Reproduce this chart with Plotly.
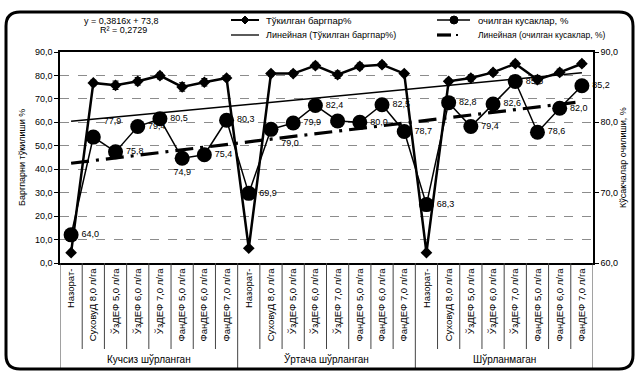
import numpy as np
import plotly.graph_objects as go

# ---- data -------------------------------------------------------------
groups = ["Кучсиз шўрланган", "Ўртача шўрланган", "Шўрланмаган"]
treatments = ["Назорат-", "СуховуД 8,0 л/га", "ЎзДЕФ 5,0 л/га", "ЎзДЕФ 6,0 л/га",
              "ЎзДЕФ 7,0 л/га", "ФанДЕФ 5,0 л/га", "ФанДЕФ 6,0 л/га", "ФанДЕФ 7,0 л/га"]
categories = treatments * len(groups)

# leaf fall, % (left axis)
leaf_fall = [4.4, 76.8, 75.8, 77.5, 79.9, 75.1, 77.1, 78.9,
             6.3, 80.8, 80.8, 84.2, 80.3, 83.9, 84.6, 80.8,
             4.4, 77.5, 78.9, 81.3, 85.0, 78.2, 81.3, 85.0]
leaf_err = [0.0, 1.2, 1.8, 1.6, 1.4, 1.8, 1.6, 1.0,
            0.0, 1.0, 1.2, 1.4, 1.6, 1.4, 1.2, 1.0,
            0.0, 1.0, 1.4, 1.2, 1.2, 1.8, 1.4, 1.2]

# opened bolls, % (right axis)
boll_open = [64.0, 77.9, 75.8, 79.4, 80.5, 74.9, 75.4, 80.3,
             69.9, 79.0, 79.9, 82.4, 80.2, 80.0, 82.5, 78.7,
             68.3, 82.8, 79.4, 82.6, 85.8, 78.6, 82.0, 85.2]
boll_label_show = [1, 1, 1, 1, 1, 1, 1, 1,
                   1, 1, 1, 1, 0, 1, 1, 1,
                   1, 1, 1, 1, 1, 1, 1, 1]
boll_label_pos = ["middle right", "top right", "middle right", "middle right",
                  "middle right", "bottom center", "middle right", "middle right",
                  "middle right", "bottom right", "middle right", "middle right",
                  "middle right", "middle right", "middle right", "middle right",
                  "middle right", "middle right", "middle right", "middle right",
                  "middle right", "middle right", "middle right", "middle right"]

equation_text = "y = 0,3816x + 73,8"
r2_text = "R² = 0,2729"

left_ticks = [0, 10, 20, 30, 40, 50, 60, 70, 80, 90]
right_ticks = [60, 70, 80, 90]

# ---- geometry ---------------------------------------------------------
W, H = 637, 374
ML, MR, MT, MB = 60, 44, 52, 111
PW, PH = W - ML - MR, H - MT - MB


def px(x):
    return (x - ML) / PW


def py(y):
    return (H - MB - y) / PH


FONT = "Liberation Sans, Arial, sans-serif"
idx = np.arange(len(categories))


def fmt(v):
    return f"{v:.1f}".replace(".", ",")


# linear trends fitted to each series
k1, b1 = np.polyfit(idx, leaf_fall, 1)
k2, b2 = np.polyfit(idx, boll_open, 1)
tx = np.array([idx[0], idx[-1]])

fig = go.Figure()

fig.add_trace(go.Scatter(
    x=tx, y=k1 * tx + b1, mode="lines", yaxis="y",
    line=dict(color="black", width=1.5), showlegend=False, hoverinfo="skip"))

fig.add_trace(go.Scatter(
    x=tx, y=k2 * tx + b2, mode="lines", yaxis="y2",
    line=dict(color="black", width=3.2, dash="18px,7px,3px,7px"),
    showlegend=False, hoverinfo="skip"))

fig.add_trace(go.Scatter(
    x=idx, y=leaf_fall, mode="lines+markers", yaxis="y",
    line=dict(color="black", width=2.5),
    marker=dict(symbol="diamond", size=9, color="black"),
    error_y=dict(type="data", array=leaf_err, color="black", thickness=1, width=3),
    showlegend=False))

fig.add_trace(go.Scatter(
    x=idx, y=boll_open, mode="lines+markers+text", yaxis="y2",
    line=dict(color="black", width=1.5),
    marker=dict(symbol="circle", size=15, color="black"),
    text=[fmt(v) if s else "" for v, s in zip(boll_open, boll_label_show)],
    textposition=boll_label_pos,
    textfont=dict(family=FONT, size=9, color="black"),
    showlegend=False, cliponaxis=False))

shapes = []
annotations = []


def note(x, y, t, size=9, angle=0, xanchor="center"):
    annotations.append(dict(x=px(x), y=py(y), xref="paper", yref="paper",
                            text=t, textangle=angle, showarrow=False,
                            xanchor=xanchor, yanchor="middle",
                            font=dict(family=FONT, size=size, color="black")))


# category separators below the axis
for k in range(len(categories) + 1):
    edge = k % len(treatments) == 0
    shapes.append(dict(type="line", xref="x", yref="paper",
                       x0=k - 0.5, x1=k - 0.5, y0=0, y1=py(368 if edge else 349),
                       line=dict(color="#444", width=1)))

for g, name in enumerate(groups):
    annotations.append(dict(
        x=g * len(treatments) + (len(treatments) - 1) / 2, y=py(359),
        xref="x", yref="paper", text=name, showarrow=False,
        xanchor="center", yanchor="middle",
        font=dict(family=FONT, size=10, color="black")))

# axis titles
note(22, 158, "Баргпарни тўкилиши %", size=9, angle=-90)
note(623, 158, "Кўсакчалар очилиши, %", size=9, angle=-90)

# trend equation
note(121, 21, equation_text)
note(123, 30, r2_text)


# legend
def seg(x0, x1, y, w):
    shapes.append(dict(type="line", xref="paper", yref="paper",
                       x0=px(x0), x1=px(x1), y0=py(y), y1=py(y),
                       line=dict(color="black", width=w)))


r1, r2 = 20, 35
seg(231, 259, r1, 2)
shapes.append(dict(type="path", xref="paper", yref="paper",
                   path=f"M {px(245)},{py(r1-4)} L {px(249)},{py(r1)} L {px(245)},{py(r1+4)} L {px(241)},{py(r1)} Z",
                   fillcolor="black", line=dict(color="black", width=1)))
note(264, r1, "Тўкилган баргпар%", size=9.5, xanchor="left")
seg(231, 259, r2, 1.3)
note(264, r2, "Линейная (Тўкилган баргпар%)", size=9, xanchor="left")

seg(437, 470, r1, 1.5)
shapes.append(dict(type="circle", xref="paper", yref="paper",
                   x0=px(450), x1=px(458), y0=py(r1 + 4), y1=py(r1 - 4),
                   fillcolor="black", line=dict(color="black", width=1)))
note(476, r1, "очилган кусаклар, %", size=9.5, xanchor="left")
seg(437, 451, r2, 3.2)
seg(456, 458, r2, 2)
note(476, r2, "Линейная (очилган кусаклар, %)", size=8.5, xanchor="left")

# rounded outer frame
bx0, by0, bx1, by1, rr = 6, 12, 633, 369, 14
path = (f"M {px(bx0+rr)},{py(by0)} L {px(bx1-rr)},{py(by0)} "
        f"Q {px(bx1)},{py(by0)} {px(bx1)},{py(by0+rr)} "
        f"L {px(bx1)},{py(by1-rr)} Q {px(bx1)},{py(by1)} {px(bx1-rr)},{py(by1)} "
        f"L {px(bx0+rr)},{py(by1)} Q {px(bx0)},{py(by1)} {px(bx0)},{py(by1-rr)} "
        f"L {px(bx0)},{py(by0+rr)} Q {px(bx0)},{py(by0)} {px(bx0+rr)},{py(by0)} Z")
shapes.append(dict(type="path", xref="paper", yref="paper", path=path,
                   line=dict(color="black", width=3)))

fig.update_layout(
    width=W, height=H,
    margin=dict(l=ML, r=MR, t=MT, b=MB),
    paper_bgcolor="white", plot_bgcolor="white",
    separators=", ",
    showlegend=False,
    font=dict(family=FONT, size=9, color="black"),
    xaxis=dict(range=[-0.5, len(categories) - 0.5], tickvals=idx, ticktext=categories,
               tickangle=-90, tickfont=dict(family=FONT, size=9.5, color="black"),
               showgrid=False, zeroline=False, showline=True, mirror=True,
               linecolor="black", linewidth=1.5, ticks=""),
    yaxis=dict(range=[0, 90], tickvals=left_ticks, tickformat=".1f",
               tickfont=dict(family=FONT, size=9, color="black"),
               showgrid=True, gridcolor="#8c8c8c", gridwidth=1, griddash="dash",
               zeroline=False, showline=True, linecolor="black", linewidth=1.5,
               ticks="outside", ticklen=4, tickcolor="black"),
    yaxis2=dict(range=[60, 90], tickvals=right_ticks, tickformat=".1f",
                overlaying="y", side="right",
                tickfont=dict(family=FONT, size=9, color="black"),
                showgrid=False, zeroline=False, showline=True, linecolor="black",
                linewidth=1.5, ticks="outside", ticklen=4, tickcolor="black"),
    shapes=shapes, annotations=annotations,
)

fig.write_html("out.html")
